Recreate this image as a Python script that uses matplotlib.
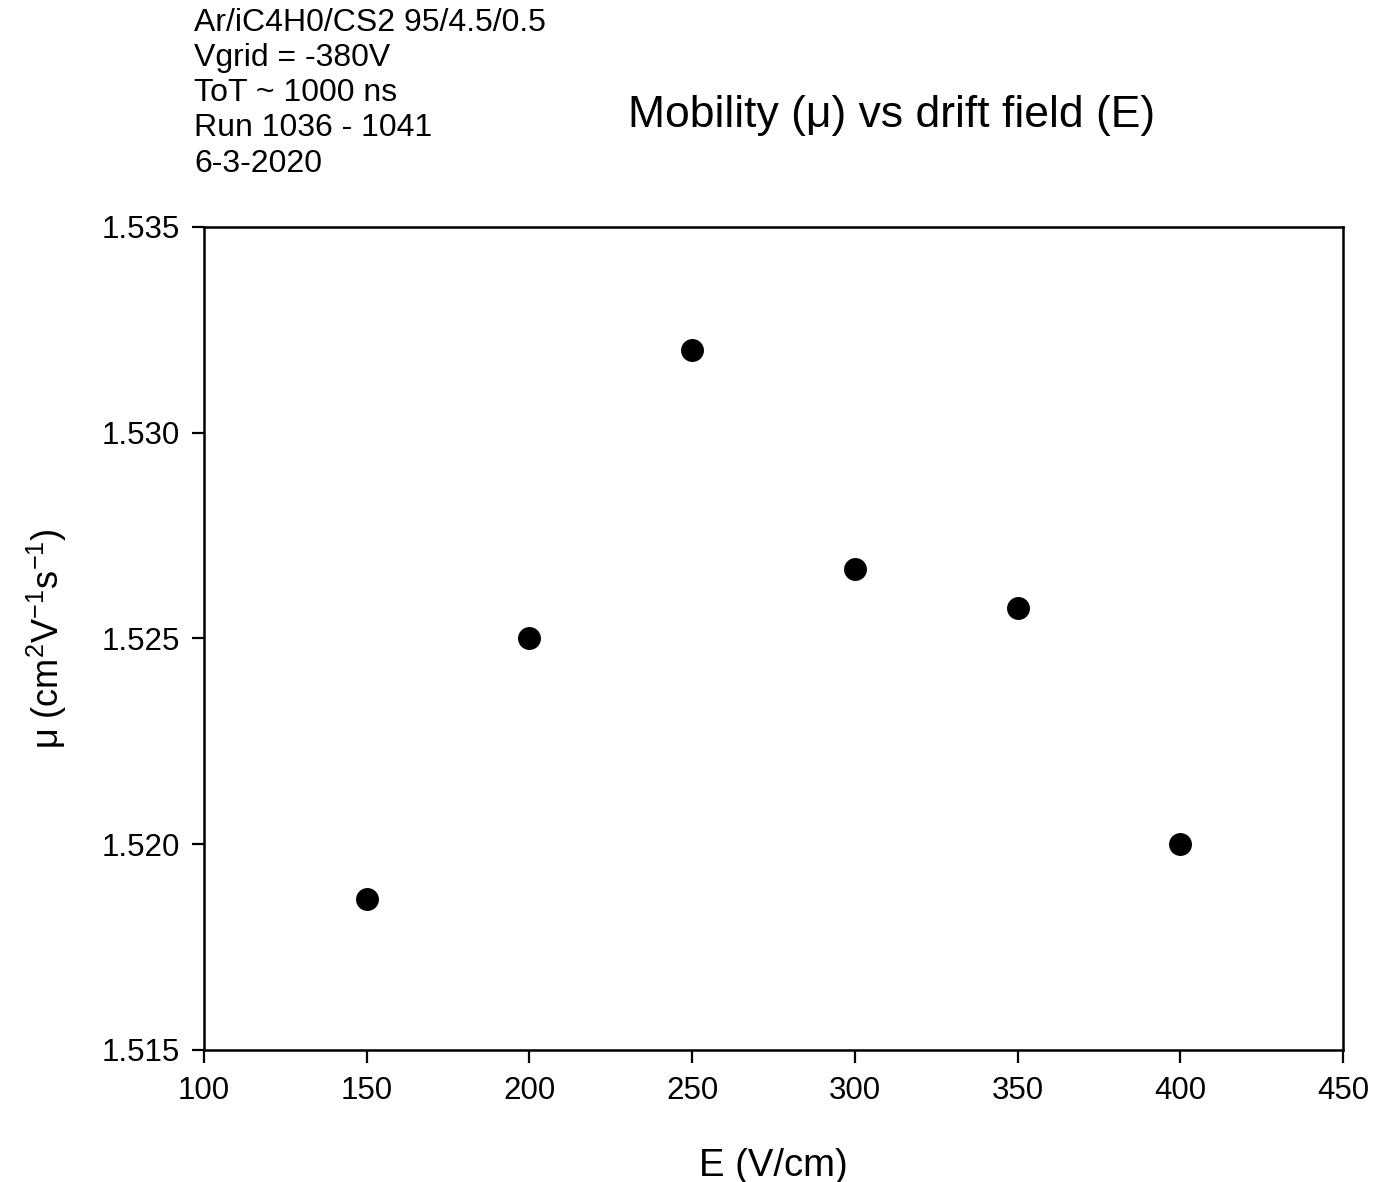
import numpy as np
import matplotlib
matplotlib.use('Agg')
import matplotlib.pyplot as plt

plt.rcParams['font.family'] = ['Liberation Sans', 'DejaVu Sans']
plt.rcParams['mathtext.fontset'] = 'custom'
plt.rcParams['mathtext.rm'] = 'Liberation Sans'
plt.rcParams['mathtext.it'] = 'Liberation Sans'

# drift field (V/cm) and mobility
campo = [150, 200, 250, 300, 350, 400]
movilidad = [1.51868, 1.52501, 1.53200, 1.52668, 1.52574, 1.52000]

xticks = [100, 150, 200, 250, 300, 350, 400, 450]
yticks = [1.515, 1.520, 1.525, 1.530, 1.535]

notas = "Ar/iC4H0/CS2 95/4.5/0.5\nVgrid = -380V\nToT ~ 1000 ns\nRun 1036 - 1041\n6-3-2020"

fig = plt.figure(figsize=(13.96, 11.82), dpi=100)
ax = fig.add_axes([0.1461, 0.1117, 0.8159, 0.6963])

ax.plot(campo, movilidad, 'o', color='black', markersize=15.5, linestyle='none')

ax.set_xlim(100, 450)
ax.set_ylim(1.515, 1.535)
ax.set_xticks(xticks)
ax.set_yticks(yticks)
ax.set_yticklabels(['%.3f' % v for v in yticks])

for s in ax.spines.values():
    s.set_linewidth(1.8)
ax.tick_params(direction='out', length=9, width=1.6, labelsize=22.5, top=False, right=False)
ax.tick_params(axis='x', pad=10)
ax.tick_params(axis='y', pad=8)

ax.set_xlabel('E (V/cm)', fontsize=27.5, labelpad=30)
ax.set_ylabel(r'μ (cm$^2$V$^{-1}$s$^{-1}$)', fontsize=26, labelpad=24)

fig.text(0.45, 0.902, 'Mobility (μ) vs drift field (E)', fontsize=32, ha='left', va='center')
fig.text(0.139, 0.993, notas, fontsize=23, ha='left', va='top', linespacing=1.22)

fig.savefig('out.png', dpi=100)
